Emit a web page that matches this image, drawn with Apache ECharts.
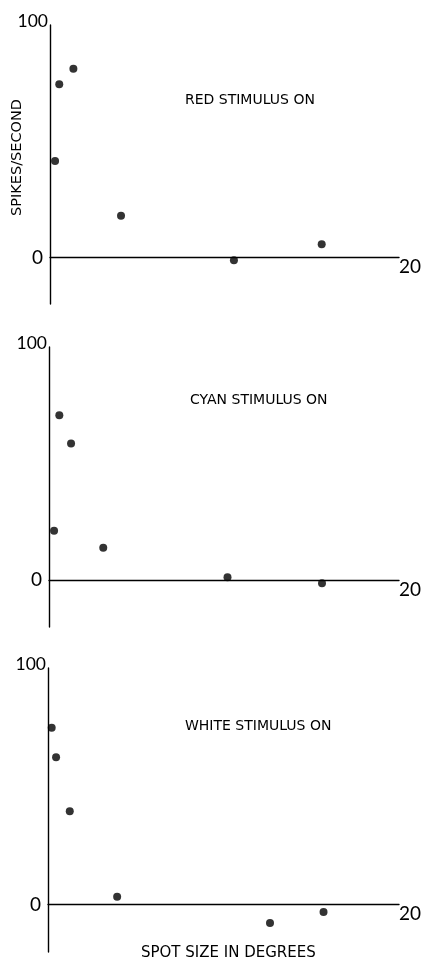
<!DOCTYPE html>
<html>
<head>
<meta charset="utf-8">
<script src="https://cdn.jsdelivr.net/npm/echarts@6/dist/echarts.min.js"></script>
<style>
  html, body { margin: 0; padding: 0; background: #fff; }
  #chart { width: 422px; height: 965px; }
</style>
</head>
<body>
<div id="chart"></div>
<script>
// Response (spikes/second) against spot size (degrees) for three stimulus colours
const panelTitles = ['RED STIMULUS ON', 'CYAN STIMULUS ON', 'WHITE STIMULUS ON'];
const yAxisTitle = 'SPIKES/SECOND';
const xAxisTitle = 'SPOT SIZE IN DEGREES';
const yTicks = [0, 100];
const xTicks = [20];

const redSize = [0.29, 0.53, 1.34, 4.07, 10.54, 15.57];
const redRate = [41.5, 74.5, 81.2, 18, -1.2, 5.7];

const cyanSize = [0.59, 1.26, 0.29, 3.1, 10.2, 15.6];
const cyanRate = [70.8, 58.6, 21.2, 14, 1.3, -1.3];

const whiteSize = [0.21, 0.46, 1.24, 3.94, 12.65, 15.7];
const whiteRate = [74.8, 62.3, 39.5, 3.3, -7.7, -3.1];

// y range shared by the three panels; the x axis sits at rate 0
const yMin = -20, yMax = 100;

const panels = [
  { size: redSize, rate: redRate, grid: { left: 50, top: 25, width: 349, height: 279 }, title: { left: 185, top: 93 } },
  { size: cyanSize, rate: cyanRate, grid: { left: 49, top: 347, width: 350, height: 280 }, title: { left: 190, top: 393 } },
  { size: whiteSize, rate: whiteRate, grid: { left: 48, top: 668, width: 351, height: 284 }, title: { left: 185, top: 719 } }
];

const ink = '#000';
const numFont = 'Lato';
const capsFont = 'DejaVu Sans';

const option = {
  backgroundColor: '#fff',
  animation: false,
  title: panels.map((p, i) => ({
    text: panelTitles[i],
    left: p.title.left,
    top: p.title.top,
    padding: 0,
    textStyle: { fontFamily: capsFont, fontSize: 14, fontWeight: 'normal', color: ink }
  })).concat([{
    text: xAxisTitle,
    left: 141,
    top: 946,
    padding: 0,
    textStyle: { fontFamily: capsFont, fontSize: 15, fontWeight: 'normal', color: ink }
  }]),
  grid: panels.map(p => Object.assign({ containLabel: false, outerBoundsMode: 'none' }, p.grid)),
  xAxis: panels.map((p, i) => ({
    type: 'value',
    gridIndex: i,
    min: 0,
    max: 20,
    position: 'bottom',
    // lift the axis (line and its label) up to rate 0
    offset: -p.grid.height * (0 - yMin) / (yMax - yMin),
    splitLine: { show: false },
    axisTick: { show: false },
    axisLine: { show: true, onZero: false, lineStyle: { color: ink, width: 1.4 } },
    axisLabel: {
      customValues: xTicks,
      hideOverlap: false,
      showMaxLabel: true,
      align: 'left',
      verticalAlign: 'top',
      margin: 0,
      fontFamily: numFont,
      fontWeight: 'normal',
      fontSize: 19,
      color: ink
    }
  })),
  yAxis: panels.map((p, i) => ({
    type: 'value',
    gridIndex: i,
    min: yMin,
    max: yMax,
    name: i === 0 ? yAxisTitle : '',
    nameLocation: 'middle',
    nameGap: 25,
    nameRotate: 90,
    nameMoveOverlap: false,
    nameTextStyle: { fontFamily: capsFont, fontSize: 14.5, color: ink, padding: [0, 0, 0, 14] },
    splitLine: { show: false },
    axisTick: { show: false },
    axisLine: { show: true, onZero: false, lineStyle: { color: ink, width: 1.4 } },
    axisLabel: {
      customValues: yTicks,
      hideOverlap: false,
      showMaxLabel: true,
      showMinLabel: true,
      margin: 2,
      formatter: v => (v === 100 ? '{top|100}' : '{zero|' + v + '}'),
      rich: {
        top: { fontFamily: numFont, fontWeight: 'normal', fontSize: 17.5, color: ink, padding: [0, 0, 7, 0] },
        zero: { fontFamily: numFont, fontWeight: 'normal', fontSize: 19, color: ink, padding: [0, 5, 0, 0] }
      }
    }
  })),
  series: panels.map((p, i) => ({
    type: 'scatter',
    xAxisIndex: i,
    yAxisIndex: i,
    symbol: 'circle',
    symbolSize: 8,
    itemStyle: { color: ink },
    data: p.size.map((s, k) => [s, p.rate[k]])
  }))
};

echarts.init(document.getElementById('chart'), null, { renderer: 'canvas' }).setOption(option);
</script>
</body>
</html>
